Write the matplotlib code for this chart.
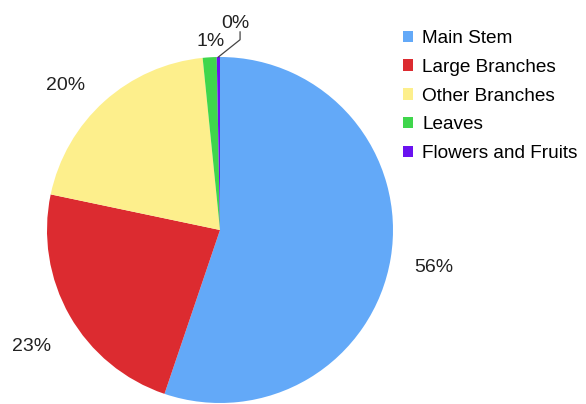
import numpy as np
import matplotlib
matplotlib.use('Agg')
import matplotlib.pyplot as plt

parts = ['Main Stem', 'Large Branches', 'Other Branches', 'Leaves', 'Flowers and Fruits']
shares = [55.2, 23.1, 20.1, 1.3, 0.3]
pct_labels = ['56%', '23%', '20%', '1%', '0%']
colors = ['#63a9f8', '#dc2b30', '#fdef8c', '#3fd64c', '#6a12f0']

plt.rcParams['font.family'] = ['Liberation Sans', 'DejaVu Sans']

fig = plt.figure(figsize=(5.86, 4.04), dpi=100)
ax = fig.add_axes([47/586, 1/404, 346/586, 346/404])

wedges, _ = ax.pie(shares, colors=colors, startangle=90, counterclock=False,
                   radius=1.0, wedgeprops=dict(linewidth=0))
ax.set_xlim(-1, 1)
ax.set_ylim(-1, 1)
ax.set_aspect('equal')
ax.axis('off')

# percent labels around the pie (distance, angle nudge in degrees)
dist = [1.255, 1.28, 1.22, 1.09, None]
nudge = [-0.5, 2.0, 5, -0.5, 0]
for w, lab, d, dn in zip(wedges, pct_labels, dist, nudge):
    mid = np.deg2rad((w.theta1 + w.theta2) / 2 + dn)
    if d is None:
        # tiny slice: leader line out to the label
        x0, y0 = np.cos(mid), np.sin(mid)
        ax.plot([x0, 0.116, 0.116], [y0, 1.10, 1.145], color='#444444', lw=0.9,
                clip_on=False)
        ax.text(0.09, 1.195, lab, ha='center', va='center', fontsize=14,
                color='#222222')
    else:
        ax.text(d * np.cos(mid), d * np.sin(mid), lab, ha='center', va='center',
                fontsize=14, color='#222222')

fig.legend(wedges, parts, loc='upper left', bbox_to_anchor=(403/586, 1 - 30/404),
           frameon=False, fontsize=13.7, handlelength=0.55, handleheight=0.55,
           handletextpad=0.45, labelspacing=0.62, borderaxespad=0, borderpad=0)

plt.savefig('out.png', dpi=100)
